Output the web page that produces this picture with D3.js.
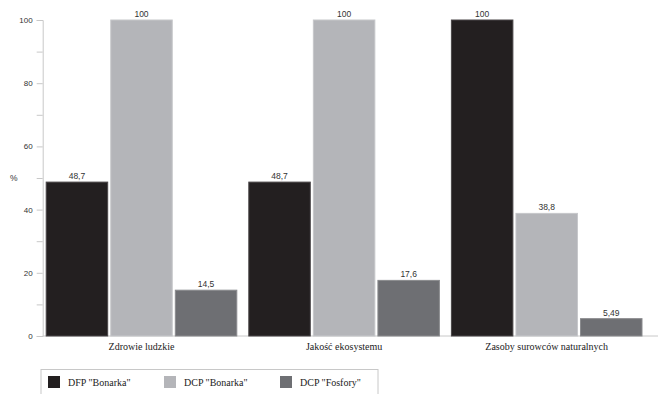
<!DOCTYPE html>
<html><head><meta charset="utf-8">
<script src="https://cdn.jsdelivr.net/npm/d3@7/dist/d3.min.js"></script>
<style>body{margin:0;background:#fff}svg{display:block}
.serif{font-family:"Liberation Serif","DejaVu Serif",serif}
.sans{font-family:"Liberation Sans",Arial,sans-serif}</style>
</head><body>
<svg id="c" width="658" height="394"></svg>
<script>
const categories = ["Zdrowie ludzkie", "Jakość ekosystemu", "Zasoby surowców naturalnych"];
const seriesNames = ['DFP "Bonarka"', 'DCP "Bonarka"', 'DCP "Fosfory"'];
const dfpBonarka = [48.7, 48.7, 100];
const dcpBonarka = [100, 100, 38.8];
const dcpFosfory = [14.5, 17.6, 5.49];
const valueLabels = [["48,7", "48,7", "100"], ["100", "100", "38,8"], ["14,5", "17,6", "5,49"]];
const yTicks = [0, 20, 40, 60, 80, 100];
const series = [dfpBonarka, dcpBonarka, dcpFosfory];
const colors = ["#231f20", "#b4b5b9", "#6e6f73"];
const strokes = ["#4a4648", "#c6c7ca", "#8a8b8e"];

const svg = d3.select("#c");
const y = d3.scaleLinear().domain([0, 100]).range([336, 20]);
const x0 = d3.scaleBand().domain(categories).range([42.7, 645.5]).paddingInner(0.0543).paddingOuter(0.0148);
const x1 = d3.scaleBand().domain(d3.range(3)).range([0, x0.bandwidth()]).paddingInner(0.032).paddingOuter(0);

// y axis
const yAxis = d3.axisLeft(y).tickValues(d3.range(0, 101, 10)).tickSize(6)
  .tickFormat(d => yTicks.includes(d) ? d : "");
const gy = svg.append("g").attr("transform", "translate(42.7,0)").call(yAxis);
gy.attr("font-family", null);
gy.select(".domain").attr("stroke", "#c8c8c8");
gy.selectAll(".tick line").attr("stroke", "#c8c8c8");
gy.selectAll(".tick text").attr("class", "sans")
  .attr("font-size", 8).attr("fill", "#333").attr("x", -10);

// x baseline
svg.append("line").attr("x1", 42.7).attr("x2", 658).attr("y1", y(0)).attr("y2", y(0))
  .attr("stroke", "#c8c8c8");

// bars
const groups = svg.append("g").selectAll("g").data(categories).join("g")
  .attr("transform", d => `translate(${x0(d)},0)`);
groups.each(function(cat, ci) {
  const g = d3.select(this);
  series.forEach((s, si) => {
    g.append("rect").attr("x", x1(si) + 0.5).attr("width", x1.bandwidth() - 1)
      .attr("y", y(s[ci])).attr("height", y(0) - y(s[ci]))
      .attr("fill", colors[si]).attr("stroke", strokes[si]).attr("stroke-width", 1);
    g.append("text").attr("class", "sans").attr("x", x1(si) + x1.bandwidth() / 2).attr("y", y(s[ci]) - 3)
      .attr("text-anchor", "middle")
      .attr("font-size", 8.5).attr("fill", "#333").text(valueLabels[si][ci]);
  });
});

// category labels
svg.append("g").selectAll("text").data(categories).join("text").attr("class", "serif")
  .attr("x", d => x0(d) + x0.bandwidth() / 2).attr("y", 350)
  .attr("text-anchor", "middle")
  .attr("font-size", 10).attr("fill", "#222").text(d => d);

// % label
svg.append("text").attr("class", "sans").attr("x", 10).attr("y", y(50) + 3)
  .attr("font-size", 8.5).attr("fill", "#333").text("%");

// legend
svg.append("rect").attr("x", 41).attr("y", 369.5).attr("width", 337).attr("height", 30)
  .attr("fill", "none").attr("stroke", "#c8c8c8");
const lg = svg.append("g").selectAll("g").data(seriesNames).join("g")
  .attr("transform", (d, i) => `translate(${48 + i * 116},376)`);
lg.append("rect").attr("width", 12).attr("height", 12).attr("fill", (d, i) => colors[i]);
lg.append("text").attr("class", "serif").attr("x", 20).attr("y", 10)
  .attr("font-size", 10).attr("fill", "#222").text(d => d);
</script>
</body></html>
